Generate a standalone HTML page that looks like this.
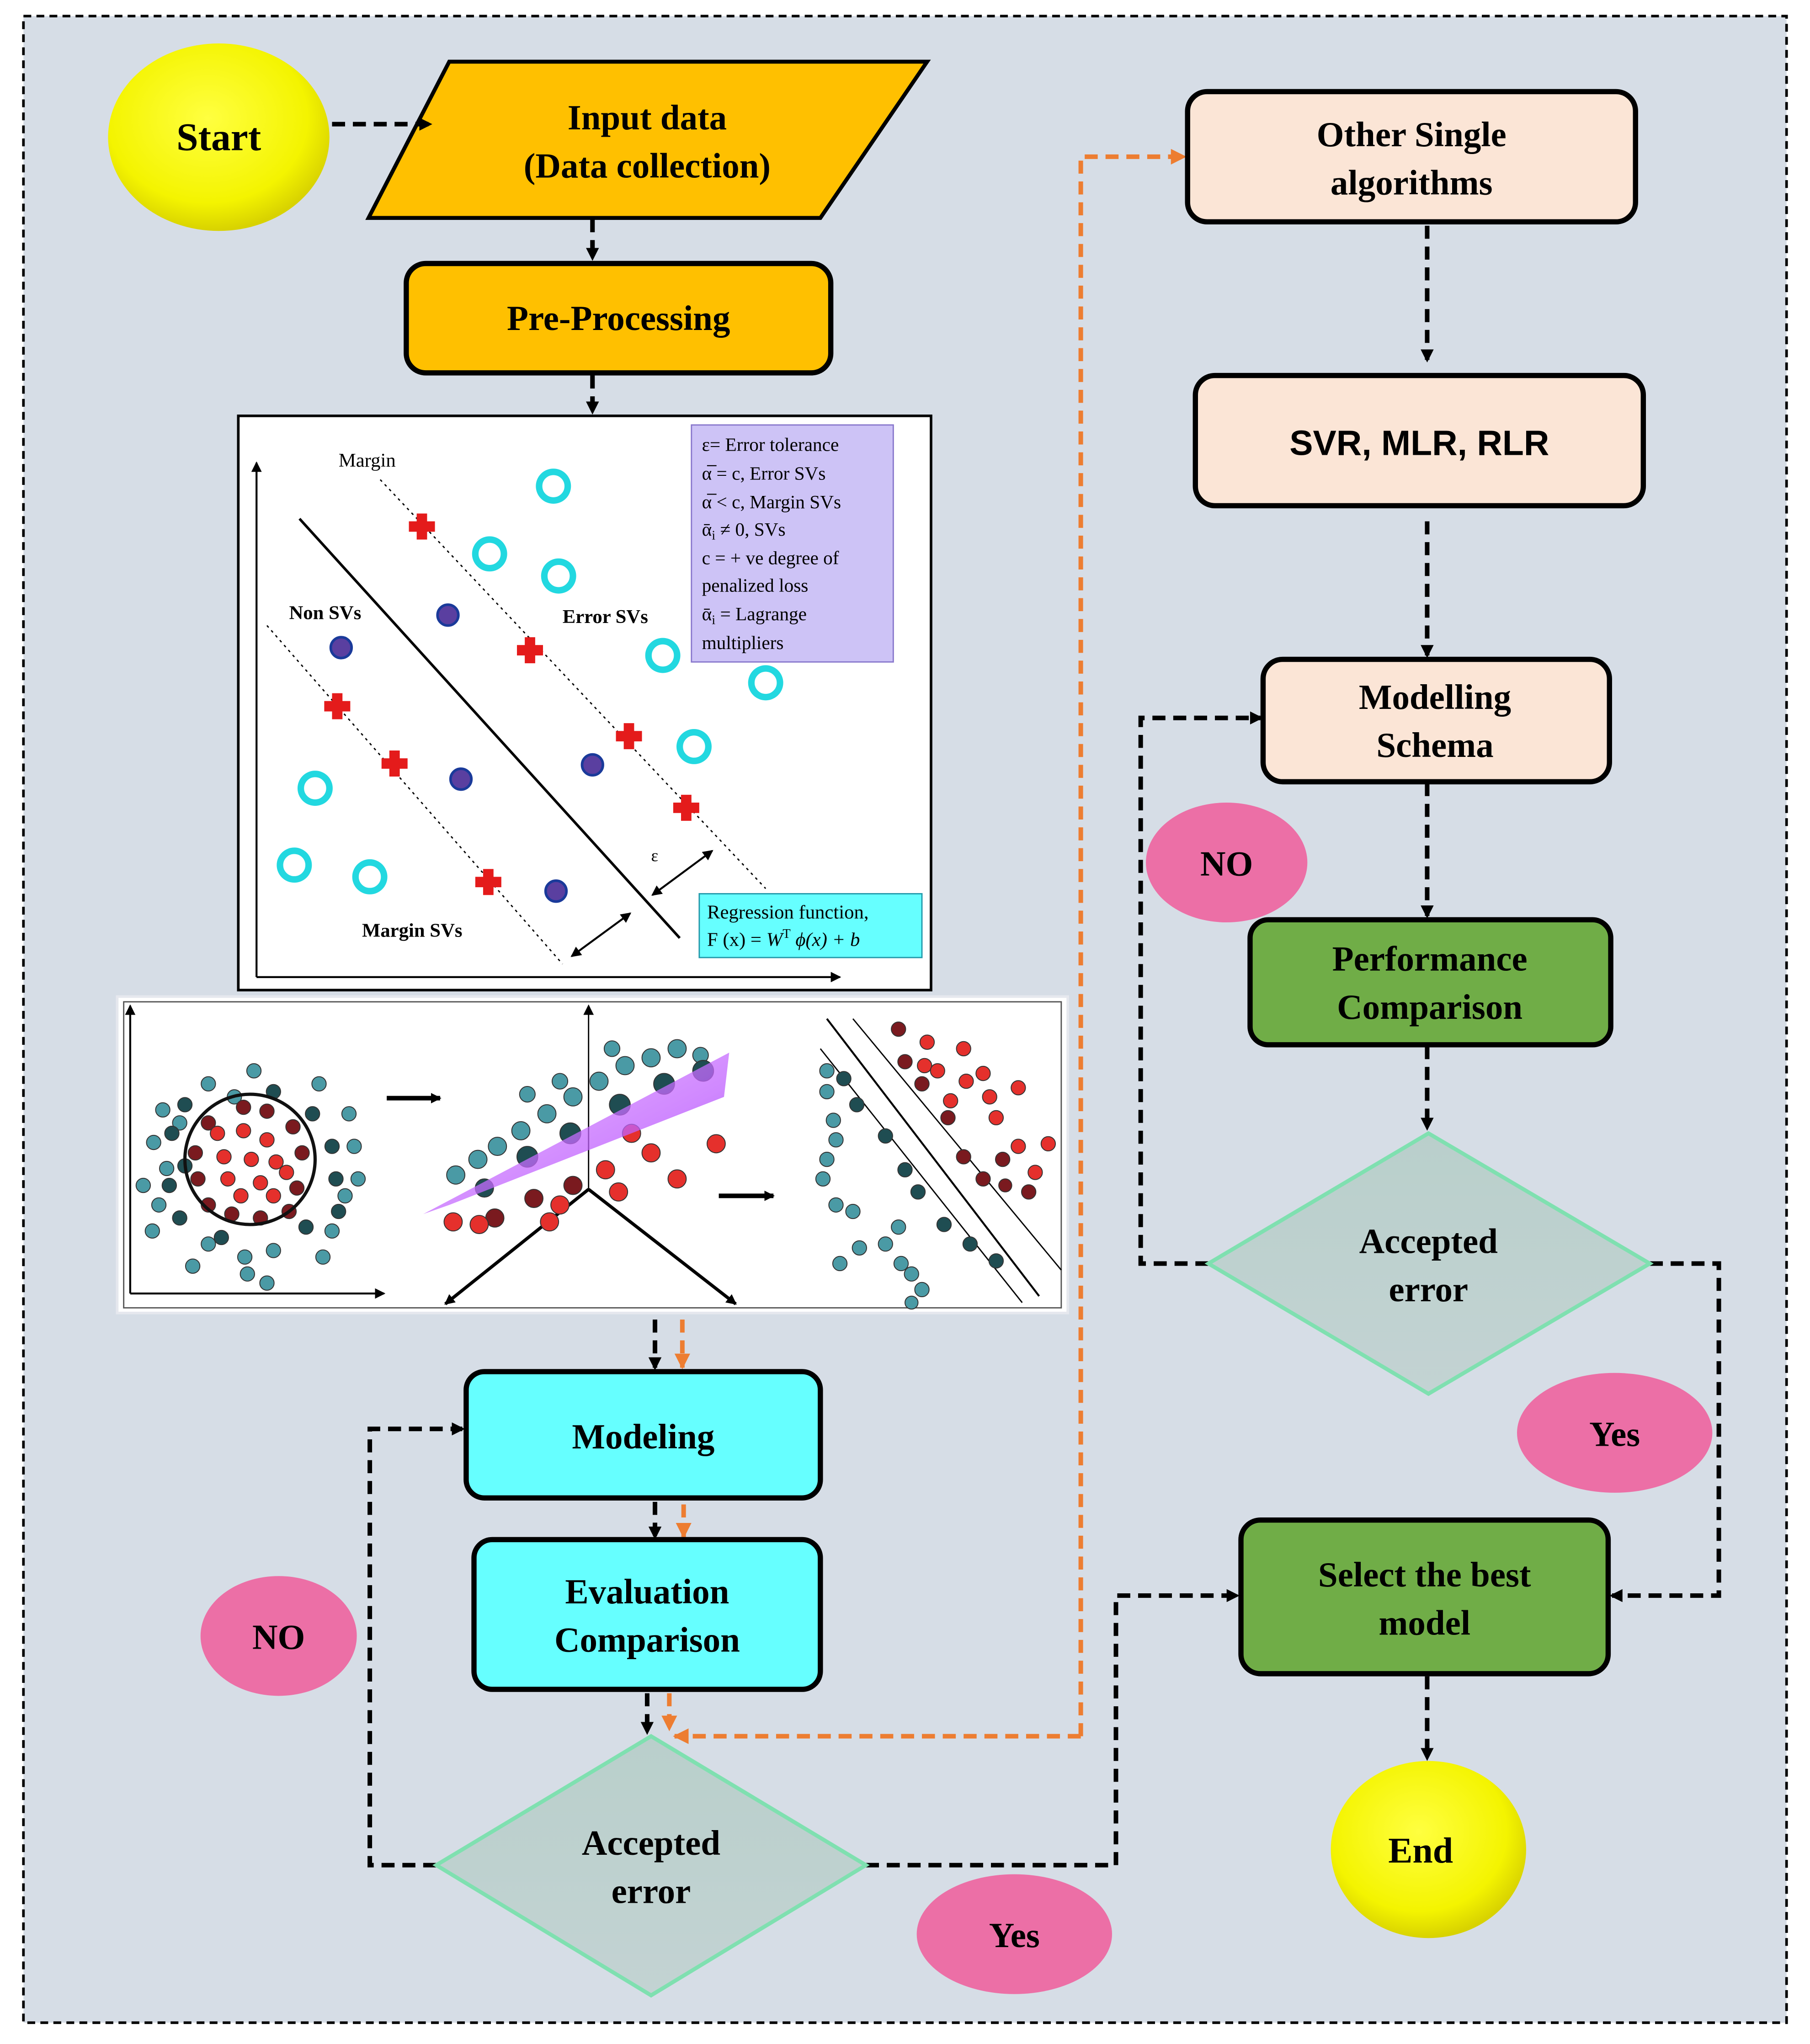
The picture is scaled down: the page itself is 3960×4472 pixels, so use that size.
<!DOCTYPE html>
<html><head><meta charset="utf-8"><style>
html,body{margin:0;padding:0;background:#fff;}
svg{display:block;}
.t{font-family:"Liberation Serif",serif;font-weight:bold;fill:#000;text-anchor:middle;}
.s{font-family:"Liberation Serif",serif;fill:#000;}
</style></head><body>
<svg width="3960" height="4472" viewBox="0 0 1390 1569" xmlns="http://www.w3.org/2000/svg">
<defs>
<radialGradient id="yel" cx="45%" cy="40%" r="60%"><stop offset="0" stop-color="#ffff40"/><stop offset="0.75" stop-color="#f4f400"/><stop offset="1" stop-color="#d8d200"/></radialGradient>
<linearGradient id="dia" x1="0" y1="0" x2="0" y2="1"><stop offset="0" stop-color="#b9cfcb"/><stop offset="1" stop-color="#c3d3d3"/></linearGradient>
<linearGradient id="pl" x1="0" y1="0" x2="1" y2="1"><stop offset="0" stop-color="#e6a8ff"/><stop offset="0.6" stop-color="#c060ff"/><stop offset="1" stop-color="#7a20e0"/></linearGradient>
<marker id="ah" markerWidth="10" markerHeight="10" refX="8" refY="5" orient="auto" markerUnits="userSpaceOnUse" viewBox="0 0 10 10"><path d="M0,0 L10,5 L0,10 z" fill="#000"/></marker>
<marker id="aho" markerWidth="12" markerHeight="12" refX="9" refY="5" orient="auto" markerUnits="userSpaceOnUse" viewBox="0 0 10 10"><path d="M0,0 L10,5 L0,10 z" fill="#ed7d31"/></marker>
<marker id="ahs" markerWidth="8" markerHeight="8" refX="7" refY="4" orient="auto" markerUnits="userSpaceOnUse" viewBox="0 0 8 8"><path d="M0,0 L8,4 L0,8 z" fill="#000"/></marker>
<marker id="ahs2" markerWidth="8" markerHeight="8" refX="7" refY="4" orient="auto-start-reverse" markerUnits="userSpaceOnUse" viewBox="0 0 8 8"><path d="M0,0 L8,4 L0,8 z" fill="#000"/></marker>
</defs>
<rect x="0" y="0" width="1390" height="1569" fill="#fff"/>
<rect x="18" y="12" width="1354" height="1541" fill="#d6dde6" stroke="#000" stroke-width="2" stroke-dasharray="6,4"/>

<!-- connectors -->
<g stroke="#000" stroke-width="3.5" fill="none" stroke-dasharray="10,6">
<line x1="455" y1="168" x2="455" y2="198" marker-end="url(#ah)"/>
<line x1="455" y1="288" x2="455" y2="316" marker-end="url(#ah)"/>
<line x1="503" y1="1013" x2="503" y2="1050" marker-end="url(#ah)"/>
<line x1="503" y1="1153" x2="503" y2="1180" marker-end="url(#ah)"/>
<line x1="497" y1="1300" x2="497" y2="1330" marker-end="url(#ah)"/>
<polyline points="335,1432 284,1432 284,1097 355,1097" marker-end="url(#ah)"/>
<polyline points="665,1432 857,1432 857,1225 950,1225" marker-end="url(#ah)"/>
<line x1="1096" y1="173" x2="1096" y2="276" marker-end="url(#ah)"/>
<line x1="1096" y1="400" x2="1096" y2="503" marker-end="url(#ah)"/>
<line x1="1096" y1="601" x2="1096" y2="703" marker-end="url(#ah)"/>
<line x1="1096" y1="803" x2="1096" y2="866" marker-end="url(#ah)"/>
<polyline points="928,970 876,970 876,551 968,551" marker-end="url(#ah)"/>
<polyline points="1267,970 1320,970 1320,1225 1238,1225" marker-end="url(#ah)"/>
<line x1="1096" y1="1287" x2="1096" y2="1350" marker-end="url(#ah)"/>
</g>
<g stroke="#ed7d31" stroke-width="3.5" fill="none" stroke-dasharray="10,6">
<line x1="524" y1="1013" x2="524" y2="1050" marker-end="url(#aho)"/>
<line x1="525" y1="1155" x2="525" y2="1180" marker-end="url(#aho)"/>
<line x1="514" y1="1300" x2="514" y2="1328" marker-end="url(#aho)"/>
<polyline points="830,1333 830,120 910,120" marker-end="url(#aho)"/>
<line x1="830" y1="1333" x2="518" y2="1333" marker-end="url(#aho)"/>
</g>

<!-- Start / End -->
<ellipse cx="168" cy="105" rx="85" ry="72" fill="url(#yel)"/>
<text class="t" x="168" y="115" font-size="30">Start</text>
<ellipse cx="1097" cy="1420" rx="75" ry="68" fill="url(#yel)"/>
<text class="t" x="1091" y="1430" font-size="28">End</text>

<!-- input -->
<polygon points="345,47 712,47 630,167 283,167" fill="#ffc000" stroke="#000" stroke-width="3"/>
<line x1="255" y1="95" x2="330" y2="95" stroke="#000" stroke-width="3.5" stroke-dasharray="10,6" marker-end="url(#ah)"/>
<text class="t" x="497" y="99" font-size="27">Input data</text>
<text class="t" x="497" y="136" font-size="27">(Data collection)</text>
<rect x="312" y="202" width="326" height="84" rx="15" fill="#ffc000" stroke="#000" stroke-width="4"/>
<text class="t" x="475" y="253" font-size="27">Pre-Processing</text>

<!-- Modeling -->
<rect x="358" y="1053" width="272" height="97" rx="14" fill="#66ffff" stroke="#000" stroke-width="4"/>
<text class="t" x="494" y="1112" font-size="27">Modeling</text>
<rect x="364" y="1182" width="266" height="115" rx="14" fill="#66ffff" stroke="#000" stroke-width="4"/>
<text class="t" x="497" y="1231" font-size="27">Evaluation</text>
<text class="t" x="497" y="1268" font-size="27">Comparison</text>

<polygon points="500,1333 665,1432 500,1532 335,1432" fill="url(#dia)" stroke="#7fe0b0" stroke-width="3"/>
<text class="t" x="500" y="1424" font-size="27">Accepted</text>
<text class="t" x="500" y="1461" font-size="27">error</text>
<ellipse cx="214" cy="1256" rx="60" ry="46" fill="#ec6fa6"/>
<text class="t" x="214" y="1266" font-size="27">NO</text>
<ellipse cx="779" cy="1485" rx="75" ry="46" fill="#ec6fa6"/>
<text class="t" x="779" y="1495" font-size="27">Yes</text>

<!-- right column -->
<rect x="912" y="70" width="344" height="100" rx="15" fill="#fbe5d6" stroke="#000" stroke-width="4"/>
<text class="t" x="1084" y="112" font-size="27">Other Single</text>
<text class="t" x="1084" y="149" font-size="27">algorithms</text>
<rect x="918" y="288" width="344" height="100" rx="15" fill="#fbe5d6" stroke="#000" stroke-width="4"/>
<text x="1090" y="349" font-size="27" font-family="Liberation Sans,sans-serif" font-weight="bold" text-anchor="middle">SVR, MLR, RLR</text>
<rect x="970" y="506" width="266" height="94" rx="15" fill="#fbe5d6" stroke="#000" stroke-width="4"/>
<text class="t" x="1102" y="544" font-size="27">Modelling</text>
<text class="t" x="1102" y="581" font-size="27">Schema</text>
<rect x="960" y="706" width="277" height="96" rx="14" fill="#70ad47" stroke="#000" stroke-width="4"/>
<text class="t" x="1098" y="745" font-size="27">Performance</text>
<text class="t" x="1098" y="782" font-size="27">Comparison</text>
<polygon points="1097,870 1267,970 1097,1070 928,970" fill="url(#dia)" stroke="#7fe0b0" stroke-width="3"/>
<text class="t" x="1097" y="962" font-size="27">Accepted</text>
<text class="t" x="1097" y="999" font-size="27">error</text>
<ellipse cx="942" cy="662" rx="62" ry="46" fill="#ec6fa6"/>
<text class="t" x="942" y="672" font-size="27">NO</text>
<ellipse cx="1240" cy="1100" rx="75" ry="46" fill="#ec6fa6"/>
<text class="t" x="1240" y="1110" font-size="27">Yes</text>
<rect x="953" y="1167" width="282" height="118" rx="15" fill="#70ad47" stroke="#000" stroke-width="4"/>
<text class="t" x="1094" y="1218" font-size="27">Select the best</text>
<text class="t" x="1094" y="1255" font-size="27">model</text>

<!-- SVR plot -->
<rect x="183" y="319" width="532" height="441" fill="#fff" stroke="#000" stroke-width="2"/>
<g stroke="#000" stroke-width="1.5" fill="none">
<line x1="197" y1="750" x2="197" y2="355" marker-end="url(#ahs)"/>
<line x1="197" y1="750" x2="645" y2="750" marker-end="url(#ahs)"/>
<line x1="230" y1="398" x2="522" y2="720" stroke-width="2"/>
<line x1="292" y1="368" x2="588" y2="682" stroke-dasharray="2,3" stroke-width="1"/>
<line x1="205" y1="480" x2="432" y2="740" stroke-dasharray="2,3" stroke-width="1"/>
<line x1="501" y1="687" x2="547" y2="653" marker-end="url(#ahs2)" marker-start="url(#ahs2)"/>
<line x1="439" y1="734" x2="484" y2="701" marker-end="url(#ahs2)" marker-start="url(#ahs2)"/>
</g>
<text class="s" x="260" y="358" font-size="15">Margin</text>
<text class="s" x="222" y="475" font-size="15" font-weight="bold">Non SVs</text>
<text class="s" x="432" y="478" font-size="15" font-weight="bold">Error SVs</text>
<text class="s" x="278" y="719" font-size="15" font-weight="bold">Margin SVs</text>
<text class="s" x="500" y="661" font-size="13">ε</text>
<g fill="#fff" stroke="#22d8e0" stroke-width="5">
<circle cx="425" cy="373" r="11"/><circle cx="376" cy="425" r="11"/><circle cx="429" cy="442" r="11"/><circle cx="509" cy="503" r="11"/><circle cx="588" cy="524" r="11"/><circle cx="533" cy="573" r="11"/><circle cx="242" cy="605" r="11"/><circle cx="284" cy="673" r="11"/><circle cx="226" cy="664" r="11"/>
</g>
<g fill="#e41b1b">
<g transform="translate(324,404)"><rect x="-10" y="-4" width="20" height="8"/><rect x="-4" y="-10" width="8" height="20"/></g>
<g transform="translate(407,499)"><rect x="-10" y="-4" width="20" height="8"/><rect x="-4" y="-10" width="8" height="20"/></g>
<g transform="translate(259,542)"><rect x="-10" y="-4" width="20" height="8"/><rect x="-4" y="-10" width="8" height="20"/></g>
<g transform="translate(303,586)"><rect x="-10" y="-4" width="20" height="8"/><rect x="-4" y="-10" width="8" height="20"/></g>
<g transform="translate(483,565)"><rect x="-10" y="-4" width="20" height="8"/><rect x="-4" y="-10" width="8" height="20"/></g>
<g transform="translate(527,620)"><rect x="-10" y="-4" width="20" height="8"/><rect x="-4" y="-10" width="8" height="20"/></g>
<g transform="translate(375,677)"><rect x="-10" y="-4" width="20" height="8"/><rect x="-4" y="-10" width="8" height="20"/></g>
</g>
<g fill="#5a3fa0" stroke="#1a3a9a" stroke-width="2">
<circle cx="344" cy="472" r="8"/><circle cx="262" cy="497" r="8"/><circle cx="354" cy="598" r="8"/><circle cx="455" cy="587" r="8"/><circle cx="427" cy="684" r="8"/>
</g>
<rect x="531" y="326" width="155" height="182" fill="#cdc3f6" stroke="#8877cc" stroke-width="1"/>
<g class="s" font-size="14.5">
<text x="539" y="346">ε= Error tolerance</text>
<text x="539" y="368">α̅ = c, Error SVs</text>
<text x="539" y="390">α̅ &lt; c, Margin SVs</text>
<text x="539" y="411">ᾱ<tspan font-size="10" dy="3">i</tspan><tspan dy="-3"> ≠ 0, SVs</tspan></text>
<text x="539" y="433">c = + ve degree of</text>
<text x="539" y="454">penalized loss</text>
<text x="539" y="476">ᾱ<tspan font-size="10" dy="3">i</tspan><tspan dy="-3">    =     Lagrange</tspan></text>
<text x="539" y="498">multipliers</text>
</g>
<rect x="537" y="686" width="171" height="49" fill="#66ffff" stroke="#2299aa" stroke-width="1"/>
<text class="s" x="543" y="705" font-size="15">Regression function,</text>
<text class="s" x="543" y="726" font-size="15">F (x) =  <tspan font-style="italic">W</tspan><tspan font-size="10" dy="-6">T</tspan><tspan dy="6" font-style="italic">   ϕ(x) + b</tspan></text>

<!-- Kernel plot -->
<rect x="90" y="765" width="730" height="243" fill="#fff" stroke="#e6e8ee" stroke-width="2"/>
<rect x="95" y="769" width="720" height="235" fill="none" stroke="#555" stroke-width="1"/>
<g stroke="#000" stroke-width="1.5" fill="none">
<line x1="100" y1="993" x2="100" y2="772" marker-end="url(#ahs)"/>
<line x1="100" y1="993" x2="295" y2="993" marker-end="url(#ahs)"/>
<line x1="452" y1="913" x2="452" y2="772" stroke-width="1" marker-end="url(#ahs)"/>
<line x1="452" y1="913" x2="342" y2="1001" stroke-width="2.5" marker-end="url(#ahs)"/>
<line x1="452" y1="913" x2="565" y2="1001" stroke-width="2.5" marker-end="url(#ahs)"/>
<line x1="297" y1="843" x2="338" y2="843" stroke-width="3.5" marker-end="url(#ahs)"/>
<line x1="552" y1="918" x2="594" y2="918" stroke-width="3.5" marker-end="url(#ahs)"/>
<line x1="635" y1="782" x2="798" y2="995"/>
<line x1="655" y1="782" x2="815" y2="975" stroke-width="1"/>
<line x1="630" y1="805" x2="785" y2="1000" stroke-width="1"/>
</g>
<g stroke="#333" stroke-width="0.7">
<g fill="#4a9aa5">
<circle cx="160" cy="832" r="5.5"/><circle cx="180" cy="842" r="5.5"/><circle cx="195" cy="822" r="5.5"/><circle cx="125" cy="852" r="5.5"/><circle cx="138" cy="862" r="5.5"/><circle cx="245" cy="832" r="5.5"/><circle cx="268" cy="855" r="5.5"/><circle cx="118" cy="877" r="5.5"/><circle cx="110" cy="910" r="5.5"/><circle cx="122" cy="925" r="5.5"/><circle cx="272" cy="880" r="5.5"/><circle cx="117" cy="945" r="5.5"/><circle cx="160" cy="955" r="5.5"/><circle cx="255" cy="945" r="5.5"/><circle cx="265" cy="918" r="5.5"/><circle cx="275" cy="905" r="5.5"/><circle cx="148" cy="972" r="5.5"/><circle cx="188" cy="965" r="5.5"/><circle cx="210" cy="960" r="5.5"/><circle cx="248" cy="965" r="5.5"/><circle cx="190" cy="978" r="5.5"/><circle cx="205" cy="985" r="5.5"/><circle cx="128" cy="897" r="5.5"/>
<circle cx="635" cy="822" r="5.5"/><circle cx="635" cy="838" r="5.5"/><circle cx="640" cy="860" r="5.5"/><circle cx="642" cy="875" r="5.5"/><circle cx="635" cy="890" r="5.5"/><circle cx="632" cy="905" r="5.5"/><circle cx="642" cy="925" r="5.5"/><circle cx="655" cy="930" r="5.5"/><circle cx="660" cy="958" r="5.5"/><circle cx="645" cy="970" r="5.5"/><circle cx="680" cy="955" r="5.5"/><circle cx="690" cy="942" r="5.5"/><circle cx="692" cy="970" r="5.5"/><circle cx="700" cy="978" r="5.5"/><circle cx="708" cy="990" r="5.5"/><circle cx="700" cy="1000" r="5"/>
<circle cx="367" cy="890" r="7"/><circle cx="382" cy="880" r="7"/><circle cx="400" cy="868" r="7"/><circle cx="420" cy="855" r="7"/><circle cx="440" cy="842" r="7"/><circle cx="460" cy="830" r="7"/><circle cx="480" cy="818" r="7"/><circle cx="500" cy="812" r="7"/><circle cx="520" cy="805" r="7"/><circle cx="538" cy="810" r="6"/><circle cx="350" cy="902" r="7"/><circle cx="405" cy="840" r="6"/><circle cx="430" cy="830" r="6"/><circle cx="470" cy="805" r="6"/>
</g>
<g fill="#1f4d52">
<circle cx="210" cy="838" r="5.5"/><circle cx="142" cy="848" r="5.5"/><circle cx="132" cy="870" r="5.5"/><circle cx="240" cy="855" r="5.5"/><circle cx="255" cy="880" r="5.5"/><circle cx="142" cy="895" r="5.5"/><circle cx="130" cy="910" r="5.5"/><circle cx="258" cy="905" r="5.5"/><circle cx="138" cy="935" r="5.5"/><circle cx="170" cy="950" r="5.5"/><circle cx="235" cy="942" r="5.5"/><circle cx="260" cy="930" r="5.5"/>
<circle cx="648" cy="828" r="5.5"/><circle cx="658" cy="848" r="5.5"/><circle cx="680" cy="872" r="5.5"/><circle cx="695" cy="898" r="5.5"/><circle cx="705" cy="915" r="5.5"/><circle cx="725" cy="940" r="5.5"/><circle cx="745" cy="955" r="5.5"/><circle cx="765" cy="968" r="5.5"/>
<circle cx="405" cy="888" r="8"/><circle cx="438" cy="870" r="8"/><circle cx="476" cy="848" r="8"/><circle cx="510" cy="832" r="8"/><circle cx="540" cy="822" r="8"/><circle cx="372" cy="912" r="7"/>
</g>
<g fill="#7a1a1f">
<circle cx="187" cy="850" r="5.5"/><circle cx="205" cy="853" r="5.5"/><circle cx="160" cy="862" r="5.5"/><circle cx="225" cy="865" r="5.5"/><circle cx="150" cy="885" r="5.5"/><circle cx="232" cy="885" r="5.5"/><circle cx="152" cy="905" r="5.5"/><circle cx="228" cy="912" r="5.5"/><circle cx="160" cy="925" r="5.5"/><circle cx="178" cy="932" r="5.5"/><circle cx="200" cy="935" r="5.5"/><circle cx="222" cy="930" r="5.5"/>
<circle cx="690" cy="790" r="5.5"/><circle cx="695" cy="815" r="5.5"/><circle cx="708" cy="832" r="5.5"/><circle cx="728" cy="858" r="5.5"/><circle cx="740" cy="888" r="5.5"/><circle cx="755" cy="905" r="5.5"/><circle cx="770" cy="890" r="5.5"/><circle cx="790" cy="915" r="5.5"/><circle cx="772" cy="910" r="5"/>
<circle cx="410" cy="920" r="7"/><circle cx="440" cy="910" r="7"/><circle cx="380" cy="935" r="7"/>
</g>
<g fill="#e5302c">
<circle cx="167" cy="870" r="5.5"/><circle cx="187" cy="868" r="5.5"/><circle cx="205" cy="875" r="5.5"/><circle cx="172" cy="888" r="5.5"/><circle cx="193" cy="890" r="5.5"/><circle cx="212" cy="892" r="5.5"/><circle cx="175" cy="905" r="5.5"/><circle cx="200" cy="908" r="5.5"/><circle cx="185" cy="918" r="5.5"/><circle cx="210" cy="918" r="5.5"/><circle cx="220" cy="900" r="5.5"/>
<circle cx="712" cy="800" r="5.5"/><circle cx="740" cy="805" r="5.5"/><circle cx="710" cy="818" r="5.5"/><circle cx="720" cy="822" r="5.5"/><circle cx="742" cy="830" r="5.5"/><circle cx="755" cy="824" r="5.5"/><circle cx="730" cy="845" r="5.5"/><circle cx="760" cy="842" r="5.5"/><circle cx="782" cy="835" r="5.5"/><circle cx="765" cy="858" r="5.5"/><circle cx="782" cy="880" r="5.5"/><circle cx="805" cy="878" r="5.5"/><circle cx="795" cy="900" r="5.5"/>
<circle cx="550" cy="878" r="7"/><circle cx="520" cy="905" r="7"/><circle cx="500" cy="885" r="7"/><circle cx="475" cy="915" r="7"/><circle cx="465" cy="898" r="7"/><circle cx="430" cy="925" r="7"/><circle cx="422" cy="938" r="7"/><circle cx="368" cy="940" r="7"/><circle cx="348" cy="938" r="7"/><circle cx="485" cy="870" r="7"/>
</g>
</g>
<polygon points="325,932 560,808 556,842 345,925" fill="url(#pl)" opacity="0.75"/>
<circle cx="192" cy="890" r="50" fill="none" stroke="#111" stroke-width="2.5"/>
</svg>
</body></html>
